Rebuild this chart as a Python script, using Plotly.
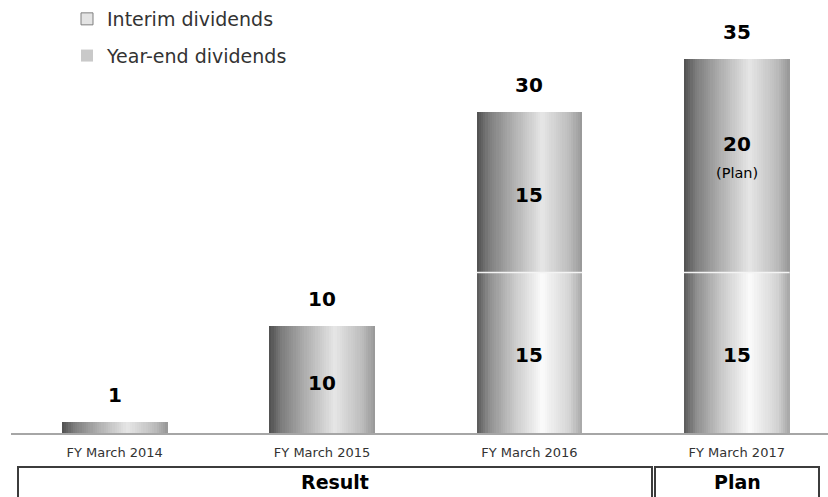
import plotly.graph_objects as go

# --- data -------------------------------------------------------------
categories = ["FY March 2014", "FY March 2015", "FY March 2016", "FY March 2017"]
interim = [0, 0, 15, 15]          # interim dividend per share
year_end = [1, 10, 15, 20]        # year-end dividend per share
plan_note = [None, None, None, "(Plan)"]
group_labels = ["Result", "Plan"]
legend_names = ["Interim dividends", "Year-end dividends"]

totals = [a + b for a, b in zip(interim, year_end)]
xs = list(range(len(categories)))

# --- styling helpers --------------------------------------------------
W = 0.51            # bar width in category units
N_STRIPS = 48       # vertical strips used to paint the horizontal gradient
FONT = "DejaVu Sans"

WIDTH, HEIGHT = 828, 497
ML, MR, MT, MB = 11, 0, 5, 64
PLOT_W = WIDTH - ML - MR
PLOT_H = HEIGHT - MT - MB


def px_x(px):
    return (px - ML) / PLOT_W


def px_y(py):
    return (HEIGHT - MB - py) / PLOT_H


def hex2rgb(h):
    h = h.lstrip("#")
    return tuple(int(h[i:i + 2], 16) for i in (0, 2, 4))


def gradient(stops, t):
    for (t0, c0), (t1, c1) in zip(stops, stops[1:]):
        if t0 <= t <= t1:
            f = (t - t0) / (t1 - t0) if t1 > t0 else 0
            a, b = hex2rgb(c0), hex2rgb(c1)
            r, g, bl = (round(a[k] + (b[k] - a[k]) * f) for k in range(3))
            return f"rgb({r},{g},{bl})"
    return stops[-1][1]


# cylinder-like shading: dark on the left, highlight past the middle
interim_stops = [(0.0, "#585858"), (0.12, "#8f8f8f"), (0.35, "#c8c8c8"),
                 (0.62, "#fbfbfb"), (0.88, "#d4d4d4"), (1.0, "#a6a6a6")]
year_end_stops = [(0.0, "#4f4f4f"), (0.12, "#7e7e7e"), (0.35, "#b0b0b0"),
                  (0.62, "#e6e6e6"), (0.88, "#bcbcbc"), (1.0, "#979797")]

fig = go.Figure()


def add_gradient_segment(values, bases, stops):
    step = W / N_STRIPS
    for i in range(N_STRIPS):
        off = -W / 2 + i * step
        width = min(step * 1.8, W / 2 - off)
        color = gradient(stops, (i + 0.5) / N_STRIPS)
        fig.add_trace(go.Bar(
            x=xs, y=values, base=bases, offset=off, width=width,
            marker=dict(color=color, line=dict(width=0)),
            showlegend=False, hoverinfo="skip",
        ))


add_gradient_segment(interim, [0] * len(xs), interim_stops)
add_gradient_segment(year_end, interim, year_end_stops)

# thin light seam between the two stacked segments
for i, (a, b) in enumerate(zip(interim, year_end)):
    if a > 0 and b > 0:
        fig.add_trace(go.Scatter(
            x=[i - W / 2, i + W / 2], y=[a, a], mode="lines",
            line=dict(color="#f4f4f4", width=1.5),
            showlegend=False, hoverinfo="skip",
        ))

# legend entries
fig.add_trace(go.Bar(x=[None], y=[None], name=legend_names[0], legendgroup="a",
                     marker=dict(color="#e4e4e4", line=dict(color="#7f7f7f", width=1))))
fig.add_trace(go.Bar(x=[None], y=[None], name=legend_names[1], legendgroup="b",
                     marker=dict(color="#c9c9c9", line=dict(width=0))))

BOLD = dict(family=FONT, size=20, color="#000000", weight=700)

annotations = []
# totals above each bar
for i, t in enumerate(totals):
    annotations.append(dict(x=i, y=t, xref="x", yref="y", text=str(t),
                            showarrow=False, yshift=27, font=BOLD))
# segment values inside the bars
for i, (a, b) in enumerate(zip(interim, year_end)):
    if a >= 5:
        annotations.append(dict(x=i, y=a / 2, xref="x", yref="y", text=str(a),
                                showarrow=False, yshift=-2, font=BOLD))
    if b >= 5:
        shift = 22 if plan_note[i] else -3
        annotations.append(dict(x=i, y=a + b / 2, xref="x", yref="y", text=str(b),
                                showarrow=False, yshift=shift, font=BOLD))
        if plan_note[i]:
            annotations.append(dict(x=i, y=a + b / 2, xref="x", yref="y", text=plan_note[i],
                                    showarrow=False, yshift=-7,
                                    font=dict(family=FONT, size=14.5, color="#000000")))

# Result / Plan boxes under the axis
shapes = []
box_left = [18, 655]
box_right = [652, 819]
for k, label in enumerate(group_labels):
    x0, x1 = px_x(box_left[k]), px_x(box_right[k])
    shapes.append(dict(type="rect", xref="paper", yref="paper",
                       x0=x0, x1=x1, y0=px_y(510), y1=px_y(467),
                       line=dict(color="#3c3c3c", width=2), fillcolor="rgba(0,0,0,0)"))
    annotations.append(dict(x=(x0 + x1) / 2, y=px_y(482), xref="paper", yref="paper",
                            xanchor="center", yanchor="middle",
                            text=label, showarrow=False,
                            font=dict(family=FONT, size=19, color="#000000", weight=700)))

fig.update_layout(
    width=WIDTH, height=HEIGHT,
    margin=dict(l=ML, r=MR, t=MT, b=MB),
    paper_bgcolor="white", plot_bgcolor="white",
    barmode="overlay", bargap=0,
    font=dict(family=FONT, color="#333333"),
    showlegend=True,
    legend=dict(x=px_x(67), y=px_y(0), xanchor="left", yanchor="top",
                font=dict(family=FONT, size=19, color="#333333"),
                bgcolor="rgba(0,0,0,0)", tracegroupgap=9,
                itemclick=False, itemdoubleclick=False),
    xaxis=dict(range=[-0.5, 3.44], tickmode="array", tickvals=xs, ticktext=categories,
               showline=True, linecolor="#a6a6a6", linewidth=1.5,
               showgrid=False, zeroline=False, ticks="", ticklabelstandoff=7,
               tickfont=dict(family=FONT, size=13, color="#333333"), fixedrange=True),
    yaxis=dict(range=[0, 40], visible=False, fixedrange=True),
    annotations=annotations,
    shapes=shapes,
)

fig.write_html("out.html")
